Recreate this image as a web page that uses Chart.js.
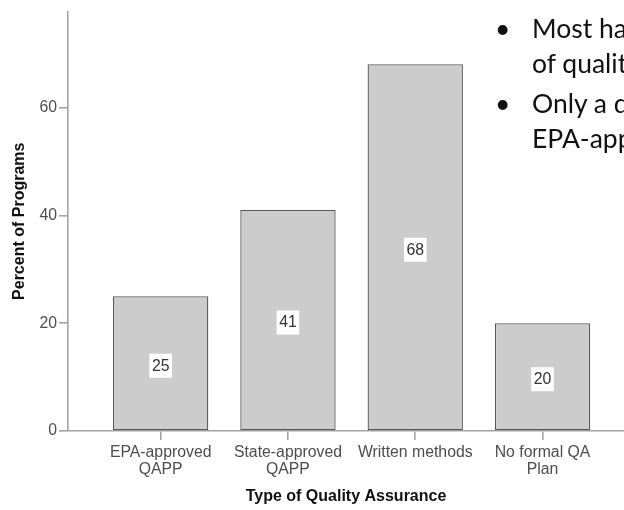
<!DOCTYPE html>
<html>
<head>
<meta charset="utf-8">
<script src="https://cdn.jsdelivr.net/npm/chart.js@4.4.1/dist/chart.umd.min.js"></script>
<style>
  html, body { margin: 0; padding: 0; background: #ffffff; overflow: hidden; }
  #wrap { position: relative; width: 624px; height: 510px; overflow: hidden; }
  #chart { position: absolute; left: 0; top: 0; }
  .note {
    position: absolute;
    font-family: Lato, "Open Sans", sans-serif;
    font-size: 26.5px;
    line-height: 26px;
    color: #111111;
    white-space: nowrap;
  }
</style>
</head>
<body>
<div id="wrap">
  <canvas id="chart" width="624" height="510"></canvas>
  <div class="note" style="left:495px; top:15px;">•</div>
  <div class="note" style="left:532px; top:15px;">Most ha</div>
  <div class="note" style="left:532px; top:50px;">of qualit</div>
  <div class="note" style="left:495px; top:90px;">•</div>
  <div class="note" style="left:532px; top:90px;">Only a d</div>
  <div class="note" style="left:532px; top:125px;">EPA-app</div>
</div>
<script>
// Quality assurance types (multi-line tick labels) and percent of programs
const categories = [
  ["EPA-approved", "QAPP"],
  ["State-approved", "QAPP"],
  ["Written methods"],
  ["No formal QA", "Plan"]
];
const percentPrograms = [25, 41, 68, 20];
const yTickValues = [0, 20, 40, 60];

const AXIS_GREY = '#a3a3a3';
const FONT_FAMILY = '"Liberation Sans", Arial, Helvetica, sans-serif';

// White boxes with the value centred on each bar
const valueBoxes = {
  id: 'valueBoxes',
  afterDatasetsDraw(chart) {
    const ctx = chart.ctx;
    const meta = chart.getDatasetMeta(0);
    ctx.save();
    ctx.font = '15.8px ' + FONT_FAMILY;
    ctx.textAlign = 'center';
    ctx.textBaseline = 'middle';
    meta.data.forEach((bar, i) => {
      const txt = String(percentPrograms[i]);
      const cx = bar.x;
      const cy = (bar.y + bar.base) / 2 + 2.5;
      const w = ctx.measureText(txt).width + 5;
      const h = 24;
      ctx.fillStyle = '#ffffff';
      ctx.fillRect(cx - w / 2, cy - h / 2, w, h);
      ctx.fillStyle = '#333333';
      ctx.fillText(txt, cx, cy + 0.5);
    });
    ctx.restore();
  }
};

new Chart(document.getElementById('chart'), {
  type: 'bar',
  data: {
    datasets: [{
      data: percentPrograms.map((v, i) => ({ x: i, y: v })),
      backgroundColor: '#cccccc',
      borderColor: '#575757',
      borderWidth: 1.3,
      borderSkipped: false,
      categoryPercentage: 1,
      barPercentage: 0.749
    }]
  },
  options: {
    responsive: false,
    animation: false,
    devicePixelRatio: 1,
    layout: { padding: { top: 11, left: 0, right: 0, bottom: 0 } },
    plugins: {
      legend: { display: false },
      tooltip: { enabled: false }
    },
    scales: {
      x: {
        type: 'linear',
        min: -0.728,
        max: 3.64,
        offset: false,
        afterBuildTicks: (scale) => {
          scale.ticks = categories.map((_, i) => ({ value: i }));
        },
        afterFit: (scale) => { scale.height = 79; },
        grid: {
          offset: false,
          drawOnChartArea: false,
          drawTicks: true,
          tickLength: 9,
          color: AXIS_GREY,
          lineWidth: 1.6
        },
        border: { display: true, color: AXIS_GREY, width: 1.6 },
        ticks: {
          autoSkip: false,
          maxRotation: 0,
          minRotation: 0,
          padding: 5,
          color: '#4d4d4d',
          font: { family: FONT_FAMILY, size: 15.8, lineHeight: 1.02 },
          callback: (value) => categories[value]
        },
        title: {
          display: true,
          text: 'Type of Quality Assurance',
          color: '#111111',
          font: { family: FONT_FAMILY, size: 16, weight: 'bold' },
          padding: { top: 0, bottom: 3.5 }
        }
      },
      y: {
        min: 0,
        max: 77.8,
        afterBuildTicks: (scale) => {
          scale.ticks = yTickValues.map(v => ({ value: v }));
        },
        afterFit: (scale) => { scale.width = 68; },
        grid: {
          drawOnChartArea: false,
          drawTicks: true,
          tickLength: 9,
          color: AXIS_GREY,
          lineWidth: 1.6
        },
        border: { display: true, color: AXIS_GREY, width: 1.6 },
        ticks: {
          padding: 2,
          color: '#4d4d4d',
          font: { family: FONT_FAMILY, size: 15.8 }
        },
        title: {
          display: true,
          text: 'Percent of Programs',
          color: '#111111',
          font: { family: FONT_FAMILY, size: 16, weight: 'bold' },
          padding: { top: 10, bottom: 0 }
        }
      }
    }
  },
  plugins: [valueBoxes]
});
</script>
</body>
</html>
